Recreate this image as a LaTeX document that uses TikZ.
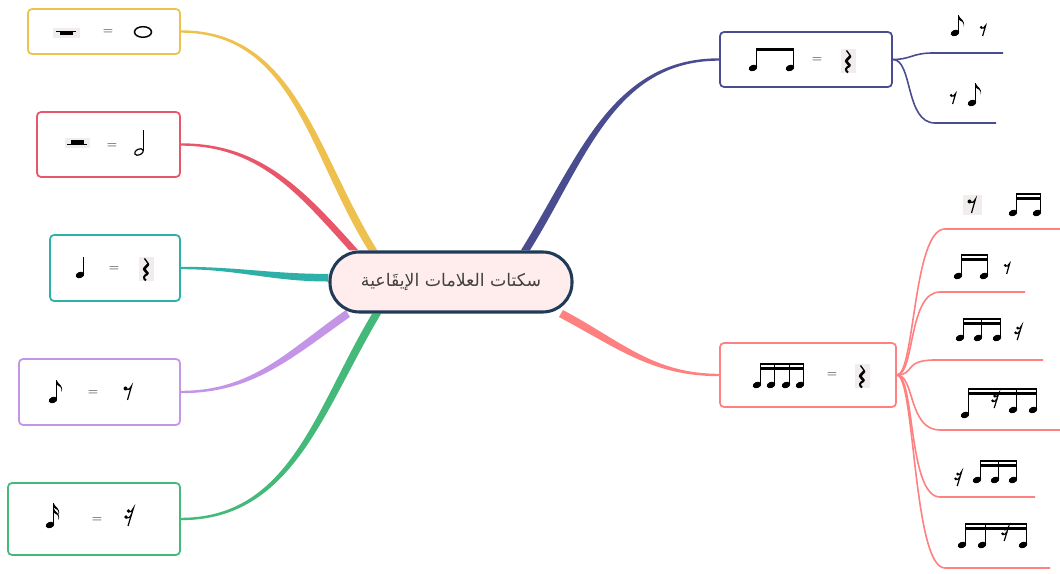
\documentclass[tikz,border=0pt]{standalone}
\usepackage{fontspec}
\usetikzlibrary{backgrounds,calc}
\newfontfamily\arabicfont[Script=Arabic]{DejaVu Sans}
\TeXXeTstate=1

\definecolor{cyel}{HTML}{EEC04E}
\definecolor{cred}{HTML}{E8566A}
\definecolor{cteal}{HTML}{2EB0A8}
\definecolor{cpur}{HTML}{C495E6}
\definecolor{cgrn}{HTML}{44B97A}
\definecolor{cnavy}{HTML}{4A4C90}
\definecolor{csal}{HTML}{FF8080}
\definecolor{rootline}{HTML}{1F3B57}
\definecolor{rootfill}{HTML}{FFEDED}
\definecolor{restbg}{HTML}{F1EDEC}

\tikzstyle{box} = [draw, rounded corners=3pt, line width=1.3pt, inner sep=0pt]
\tikzstyle{root} = [draw=rootline, fill=rootfill, line width=2.3pt, rounded corners=22pt, minimum width=181.5pt, minimum height=45pt, inner sep=0pt, text=black!75, font=\arabicfont\fontsize{13}{15}\selectfont]
\tikzstyle{subline} = [line width=1.2pt]
\tikzstyle{eq} = [font=\normalsize, text=black!85]

\tikzset{
  pics/head/.style={code={\fill[rotate=20] (0,0) ellipse [x radius=4.4, y radius=3.1];}},
  pics/qnote/.style={code={\pic {head}; \draw[line width=0.8pt] (3.9,0.8) -- (3.9,#1);}},
  pics/flag/.style={code={\fill (3.5,#1) .. controls (4.5,#1-4) and (11,#1-5) .. (8.5,#1-12) .. controls (9.5,#1-7) and (6,#1-6) .. (3.5,#1-4.5) -- cycle;}},
  pics/enote/.style={code={\pic {qnote=#1}; \pic {flag=#1};}},
  pics/snote/.style={code={\pic {qnote=#1}; \pic {flag=#1}; \pic {flag=#1-5};}},
  pics/hnote/.style={code={\draw[line width=0.9pt, rotate=25] (0,0) ellipse [x radius=4.6, y radius=2.9]; \draw[line width=0.8pt] (4.3,1) -- (4.3,22);}},
  pics/wnote/.style={code={\draw[line width=1.1pt] (0,0) ellipse [x radius=8.5, y radius=5.3];}},
  pics/wrest/.style={code={\fill[restbg] (-13.5,-5) rectangle (13.5,5); \draw[line width=0.6pt] (-10,2) -- (10,2); \fill (-6.5,2) rectangle (6.5,-2);}},
  pics/hrest/.style={code={\fill[restbg] (-12.5,-5) rectangle (12.5,5); \fill (-6.5,-1.5) rectangle (6.5,3); \draw[line width=0.6pt] (-10,-1.5) -- (10,-1.5);}},
  pics/qrest/.style={code={\fill[restbg] (-7.5,-12) rectangle (7.5,12);
    \draw[line width=1pt] (-1.5,10.5) -- (2.5,5);
    \draw[line width=2pt, line join=round] (2.5,5) -- (-2,0) -- (2,-5);
    \draw[line width=1.5pt] (2,-5) .. controls (-3,-6.5) and (-3,-9.5) .. (0,-11.5);}},
  pics/erest/.style={code={\fill (-2.5,3.5) circle (2); \draw[line width=0.9pt] (-2.5,2.5) .. controls (-0.5,1.5) and (2,3) .. (3.5,6) -- (-0.5,-8);}},
  pics/srest/.style={code={\fill (-0.5,5) circle (1.8); \fill (-3,-1) circle (1.8);
    \draw[line width=0.9pt] (-0.5,4) .. controls (1.5,3.5) and (3.5,5) .. (4.5,8) -- (-1,-10);
    \draw[line width=0.9pt] (-3,-2) .. controls (-1,-2.5) and (1,-1.5) .. (2.5,1.5);}}
}

% two sixteenth beams: left, right, top
\newcommand\dbeam[3]{\fill (#1,#3) rectangle (#2,#3-2.4); \fill (#1,#3-4.2) rectangle (#2,#3-6.6);}
% tapered branch: colour, start, out, in, target, half width at start (x,y), half width at target
\newcommand\branch[8]{\fill[#1] ($(#2)+(#6,#7)$) to[out=#3, in=#4] ($(#5)+(0,#8)$) -- ($(#5)-(0,#8)$) to[out=#4, in=#3] ($(#2)-(#6,#7)$) -- cycle;}

\begin{document}
\begin{tikzpicture}[x=0.75pt, y=0.75pt]
  \useasboundingbox (0,0) rectangle (1060,574);

  \node[box, draw=cyel, minimum width=114pt, minimum height=33.75pt] (whole) at (104,542.5) {};
  \node[box, draw=cred, minimum width=107.25pt, minimum height=48.75pt] (half) at (108.5,429.5) {};
  \node[box, draw=cteal, minimum width=97.5pt, minimum height=49.5pt] (quarter) at (115,306) {};
  \node[box, draw=cpur, minimum width=120.75pt, minimum height=49.5pt] (eighth) at (99.5,182) {};
  \node[box, draw=cgrn, minimum width=129pt, minimum height=54pt] (sixteenth) at (94,55) {};
  \node[box, draw=cnavy, minimum width=129pt, minimum height=41.25pt] (pair) at (806,514.5) {};
  \node[box, draw=csal, minimum width=132pt, minimum height=48pt] (four) at (808,199) {};
  \node[root] (root) at (451,292) {\beginR سكتات العلامات الإيقَاعية\endR};

  \begin{scope}[on background layer]
    \branch{cyel}{root.158}{122}{0}{whole.east}{-4.5}{0}{-1.2}
    \branch{cred}{root.162}{132}{0}{half.east}{-4.5}{0}{-1.2}
    \branch{cteal}{root.178}{180}{0}{quarter.east}{0}{-3.8}{-1.2}
    \branch{cpur}{root.197}{215}{0}{eighth.east}{2}{-3.5}{-1.2}
    \branch{cgrn}{root.203}{239}{0}{sixteenth.east}{4.5}{0}{-1.2}
    \branch{cnavy}{root.23}{58}{180}{pair.west}{-4.5}{0}{1.2}
    \branch{csal}{root.344}{-28}{180}{four.west}{2}{3.5}{1.2}
  \end{scope}

  % sub branches
  \coordinate (p1) at (933,521);   \coordinate (p1e) at (1003,521);
  \coordinate (p2) at (935,451);   \coordinate (p2e) at (996,451);
  \draw[subline, cnavy] (pair.east) .. controls +(18,0) and +(-21,0) .. (p1) -- (p1e);
  \draw[subline, cnavy] (pair.east) .. controls +(20,0) and +(-30,0) .. (p2) -- (p2e);

  \coordinate (s1) at (945,345);   \coordinate (s1e) at (1060,345);
  \coordinate (s2) at (940,282);   \coordinate (s2e) at (1025,282);
  \coordinate (s3) at (935,214);   \coordinate (s3e) at (1043,214);
  \coordinate (s4) at (940,144);   \coordinate (s4e) at (1060,144);
  \coordinate (s5) at (940,77);    \coordinate (s5e) at (1035,77);
  \coordinate (s6) at (945,6);     \coordinate (s6e) at (1050,6);
  \foreach \s in {s1,s2,s3,s4,s5,s6}
    \draw[subline, csal] (four.east) .. controls +(18,0) and +(-32,0) .. (\s) -- (\s e);

  % left boxes
  \pic at (66,541) {wrest};
  \node[eq] at (108,542) {=};
  \pic at (143,542) {wnote};

  \pic at (77,431) {hrest};
  \node[eq] at (112,428) {=};
  \pic at (139,422) {hnote};

  \pic at (80,299) {qnote=18};
  \node[eq] at (114,305) {=};
  \pic at (146,305) {qrest};

  \pic at (53,174) {enote=20};
  \node[eq] at (93,181) {=};
  \pic at (128,182) {erest};

  \pic at (50,49) {snote=22};
  \node[eq] at (97,54) {=};
  \pic at (129,58) {srest};

  % right boxes
  \pic at (753,506) {qnote=20};
  \pic at (790,506) {qnote=20};
  \fill (756.4,526) rectangle (794.4,522.8);
  \node[eq] at (817,514) {=};
  \pic at (848,513) {qrest};

  \foreach \x in {757,771,786,800} \pic at (\x,189) {qnote=22};
  \dbeam{760.4}{804.4}{211}
  \node[eq] at (832,199) {=};
  \pic at (862,198) {qrest};

  % labels of the navy branches
  \pic at (955,541) {enote=18};
  \pic[scale=0.75] at (983,544) {erest};
  \pic[scale=0.75] at (953,476) {erest};
  \pic at (972,471) {enote=20};

  % labels of the salmon branches
  \fill[restbg] (963,359) rectangle (982,379);
  \pic at (972,369) {erest};
  \foreach \x in {1013,1037} \pic at (\x,361) {qnote=20};
  \dbeam{1016.4}{1041.4}{381}

  \foreach \x in {958,984} \pic at (\x,298) {qnote=22};
  \dbeam{961.4}{988.4}{320}
  \pic[scale=0.75] at (1007,306) {erest};

  \foreach \x in {960,978,997} \pic at (\x,236) {qnote=20};
  \dbeam{963.4}{1001.4}{256}
  \pic[scale=0.8] at (1018,242) {srest};

  \pic at (965,159) {qnote=27};
  \foreach \x in {1013,1033} \pic at (\x,164) {qnote=22};
  \dbeam{968.4}{1037.4}{186}
  \pic[scale=0.8] at (995,174) {srest};

  \pic[scale=0.8] at (958,96) {srest};
  \foreach \x in {977,995,1013} \pic at (\x,94) {qnote=20};
  \dbeam{980.4}{1017.4}{114}

  \foreach \x in {962,982,1023} \pic at (\x,29) {qnote=22};
  \dbeam{965.4}{1027.4}{51}
  \pic[scale=0.8] at (1005,41) {srest};
\end{tikzpicture}
\end{document}
